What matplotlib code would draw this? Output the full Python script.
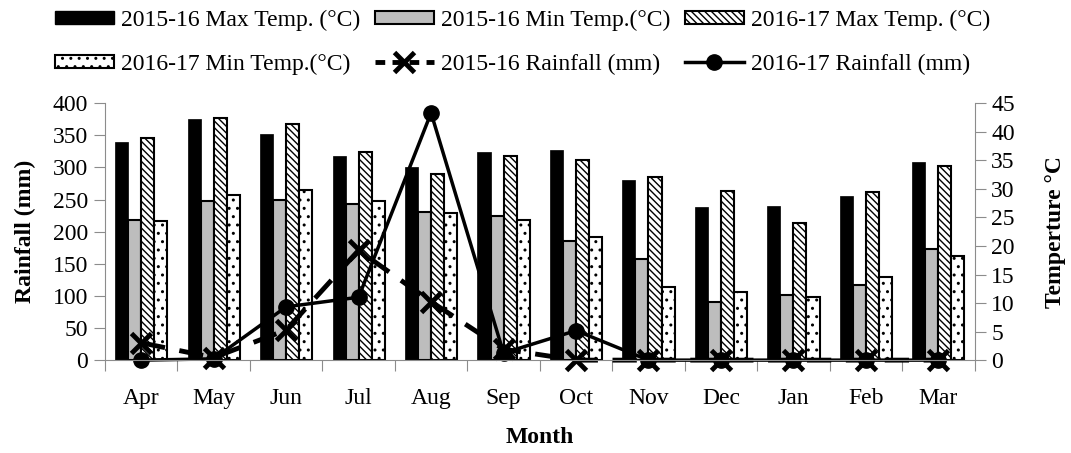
import numpy as np
import matplotlib
matplotlib.use('Agg')
import matplotlib.pyplot as plt
from matplotlib.patches import Patch
from matplotlib.lines import Line2D

months = ['Apr', 'May', 'Jun', 'Jul', 'Aug', 'Sep',
          'Oct', 'Nov', 'Dec', 'Jan', 'Feb', 'Mar']

# monthly temperatures (deg C)
max_1516 = [38.3, 42.2, 39.6, 35.8, 33.8, 36.5, 36.8, 31.5, 26.8, 27.0, 28.8, 34.7]
min_1516 = [24.5, 27.9, 28.1, 27.3, 26.0, 25.3, 20.8, 17.7, 10.1, 11.4, 13.2, 19.5]
max_1617 = [38.9, 42.5, 41.3, 36.5, 32.6, 35.7, 35.0, 32.0, 29.6, 24.0, 29.5, 34.0]
min_1617 = [24.3, 29.0, 29.8, 27.8, 25.8, 24.6, 21.5, 12.9, 12.0, 11.0, 14.5, 18.2]

# monthly rainfall (mm)
rain_1516 = [27, 4, 47, 171, 91, 17, 0, 0, 0, 0, 0, 0]
rain_1617 = [0, 2, 83, 98, 385, 11, 46, 0, 0, 0, 0, 0]

plt.rcParams['font.family'] = ['Liberation Serif', 'DejaVu Serif']
plt.rcParams['hatch.linewidth'] = 1.0
FS = 17

fig = plt.figure(figsize=(10.71, 4.53), dpi=100)
ax = fig.add_axes([0.098, 0.205, 0.812, 0.567])
ax2 = ax.twinx()

x = np.arange(len(months))
w = 0.18
edge = dict(edgecolor='black', linewidth=1.5)
ax2.bar(x - 1.5 * w, max_1516, w, color='black', edgecolor='black', linewidth=0.5)
ax2.bar(x - 0.5 * w, min_1516, w, color='#bdbdbd', **edge)
ax2.bar(x + 0.5 * w, max_1617, w, color='white', hatch='\\\\\\\\\\', **edge)
ax2.bar(x + 1.5 * w, min_1617, w, color='white', hatch='..', **edge)

# rainfall lines drawn over the bars
ax.set_zorder(ax2.get_zorder() + 1)
ax.patch.set_visible(False)
ax.plot(x, rain_1516, color='black', lw=3.5, dashes=(5, 3),
        marker='x', ms=14, mew=3.5, clip_on=False)
ax.plot(x, rain_1617, color='black', lw=2.5,
        marker='o', ms=11, clip_on=False)

ax.set_xlim(-0.5, len(months) - 0.5)
ax.set_ylim(0, 400)
ax.set_yticks(np.arange(0, 401, 50))
ax2.set_ylim(0, 45)
ax2.set_yticks(np.arange(0, 46, 5))

# month boundaries as ticks, names centred between them
ax.set_xticks(np.arange(-0.5, len(months), 1.0))
ax.set_xticklabels([])
ax.set_xticks(x, minor=True)
ax.set_xticklabels(months, minor=True)
ax.tick_params(axis='x', which='minor', length=0, pad=20, labelsize=FS)
ax.tick_params(axis='x', which='major', length=8, color='#8c8c8c')
ax.tick_params(axis='y', length=8, color='#8c8c8c', labelsize=FS, pad=4)
ax2.tick_params(axis='y', length=8, color='#8c8c8c', labelsize=FS, pad=4)

for a in (ax, ax2):
    a.spines['top'].set_visible(False)
    for s in ('left', 'right', 'bottom'):
        a.spines[s].set_color('#8c8c8c')
ax.spines['right'].set_visible(False)
ax2.spines['left'].set_visible(False)
ax2.spines['bottom'].set_visible(False)

ax.set_ylabel('Rainfall (mm)', fontsize=FS, fontweight='bold', labelpad=12)
ax2.set_ylabel('Temperture °C', fontsize=FS, fontweight='bold', labelpad=22)
ax.set_xlabel('Month', fontsize=FS, fontweight='bold', labelpad=13)

h_max15 = Patch(facecolor='black', edgecolor='black')
h_min15 = Patch(facecolor='#bdbdbd', **edge)
h_max16 = Patch(facecolor='white', hatch='\\\\\\\\\\', **edge)
h_min16 = Patch(facecolor='white', hatch='..', **edge)
h_r15 = Line2D([], [], color='black', lw=3.5, dashes=(2, 1.5),
               marker='x', ms=14, mew=3.5)
h_r16 = Line2D([], [], color='black', lw=2.5, marker='o', ms=11)

# legend fills column-wise, so order for row-wise reading
handles = [h_max15, h_min16, h_min15, h_r15, h_max16, h_r16]
labels = ['2015-16 Max Temp. (°C)', '2016-17 Min Temp.(°C)',
          '2015-16 Min Temp.(°C)', '2015-16 Rainfall (mm)',
          '2016-17 Max Temp. (°C)', '2016-17 Rainfall (mm)']
fig.legend(handles, labels, loc='upper center', bbox_to_anchor=(0.488, 1.025),
           ncol=3, frameon=False, fontsize=FS, handlelength=2.5,
           handleheight=0.5, handletextpad=0.3, columnspacing=0.6,
           labelspacing=0.95)

fig.savefig('out.png', dpi=100)
